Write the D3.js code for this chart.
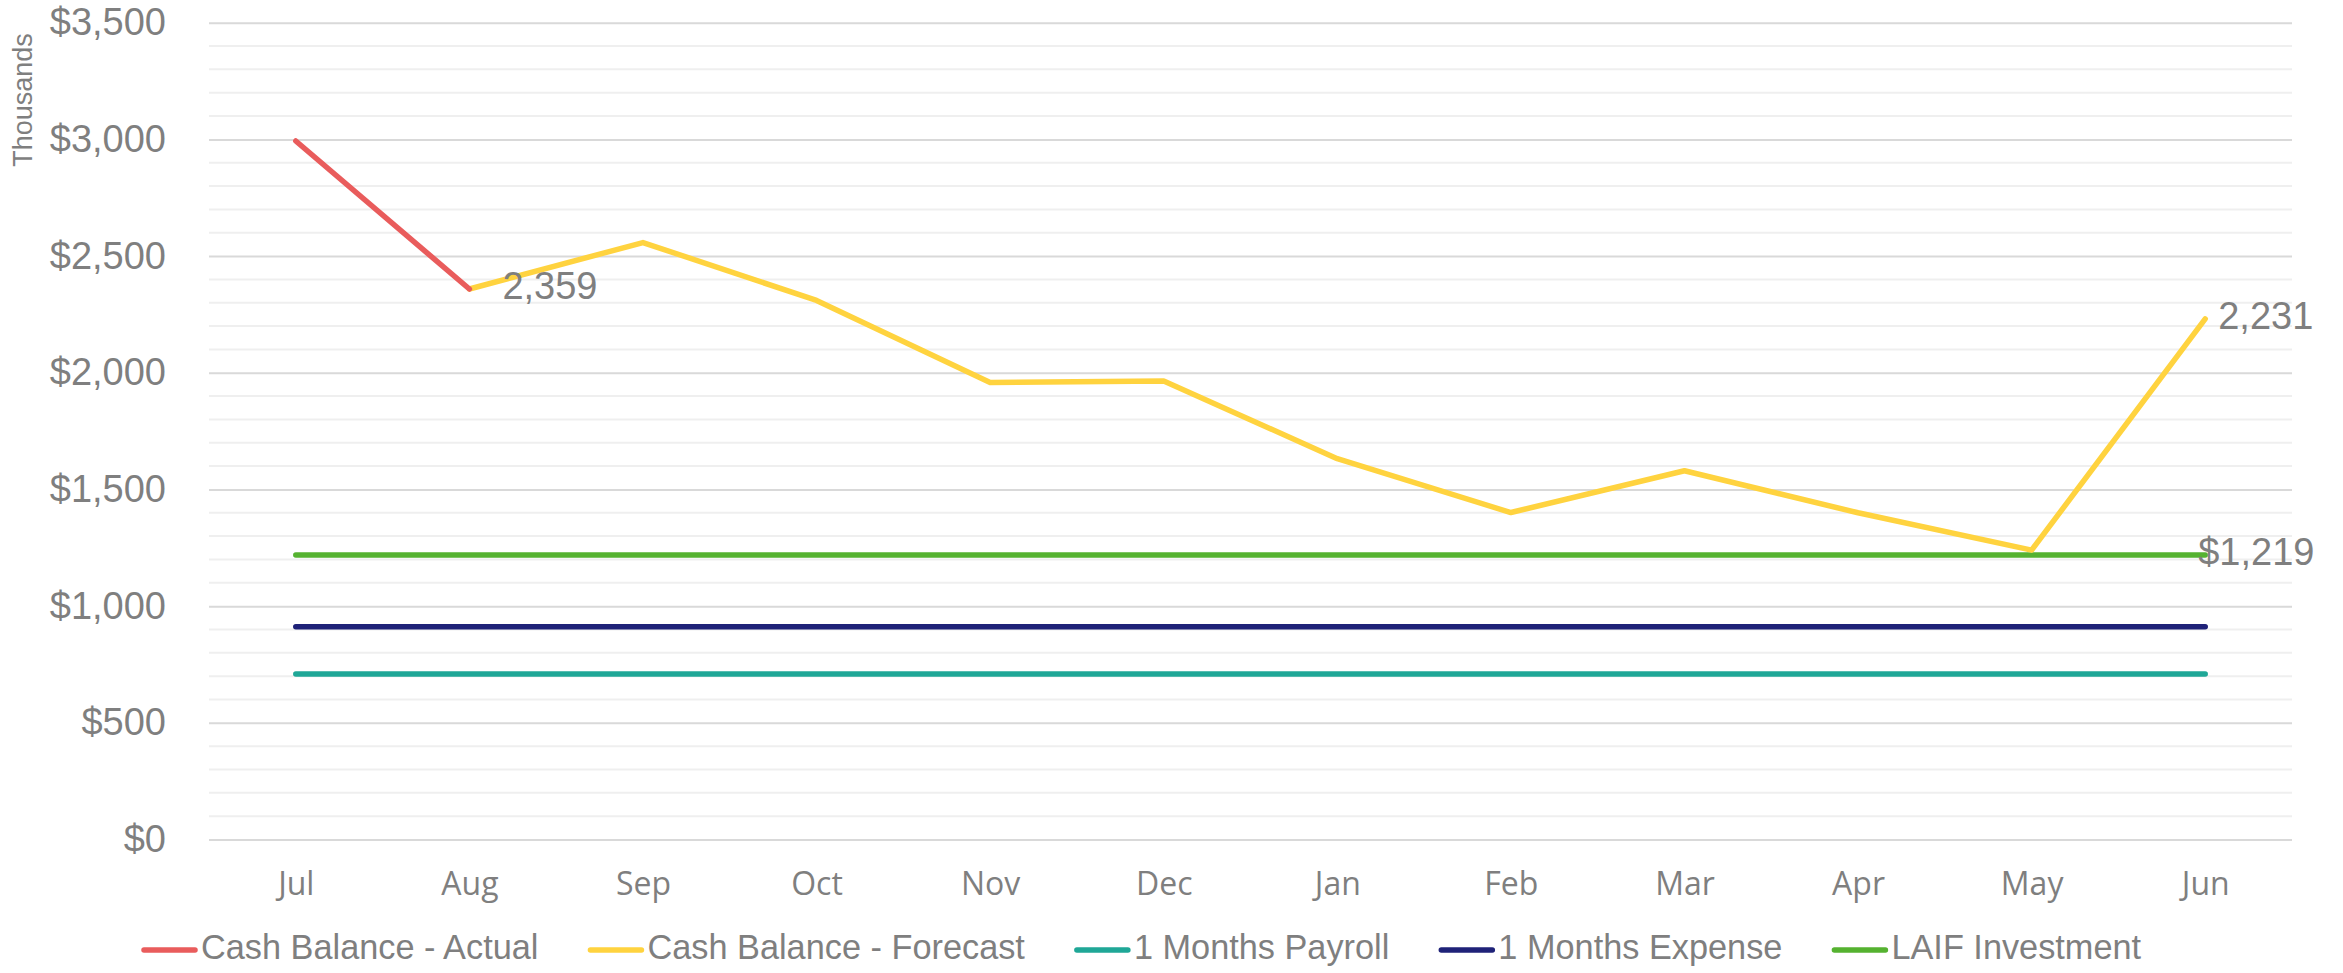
<!DOCTYPE html>
<html>
<head>
<meta charset="utf-8">
<script src="https://cdn.jsdelivr.net/npm/d3@7"></script>
<style>
  html, body { margin: 0; padding: 0; background: #fff; }
  svg { display: block; font-family: 'Liberation Sans', Arial, sans-serif; }
</style>
</head>
<body>
<div id="chart"></div>
<script>
// Data (thousands of dollars)
const months = ['Jul', 'Aug', 'Sep', 'Oct', 'Nov', 'Dec', 'Jan', 'Feb', 'Mar', 'Apr', 'May', 'Jun']
const cashActual = [2993, 2359, null, null, null, null, null, null, null, null, null, null]
const cashForecast = [null, 2359, 2558, 2310, 1958, 1965, 1632, 1401, 1580, 1400, 1240, 2231]
const payroll = [709, 709, 709, 709, 709, 709, 709, 709, 709, 709, 709, 709]
const expense = [912, 912, 912, 912, 912, 912, 912, 912, 912, 912, 912, 912]
const laif = [1219, 1219, 1219, 1219, 1219, 1219, 1219, 1219, 1219, 1219, 1219, 1219]
const yTicks = [0, 500, 1000, 1500, 2000, 2500, 3000, 3500]

const series = [
  { name: 'Cash Balance - Actual', values: cashActual, colour: '#E95C5C' },
  { name: 'Cash Balance - Forecast', values: cashForecast, colour: '#FFD33F' },
  { name: '1 Months Payroll', values: payroll, colour: '#1FA797' },
  { name: '1 Months Expense', values: expense, colour: '#1F2278' },
  { name: 'LAIF Investment', values: laif, colour: '#55B230' }
]
// drawing order (back to front)
const drawOrder = [2, 3, 4, 1, 0]

// data labels: series index, month index, format
const labels = [
  { s: 1, i: 1, fmt: d3.format(','), dx: 33, dy: 0 },
  { s: 1, i: 11, fmt: d3.format(','), dx: 13, dy: 0 },
  { s: 4, i: 11, fmt: v => '$' + d3.format(',')(v), dx: -7, dy: 0 }
]

const width = 2343, height = 973
const plot = { left: 209, right: 2292, top: 22.7, bottom: 839.5 }
const textGrey = '#7F7F7F'

const svg = d3.select('#chart').append('svg')
  .attr('width', width)
  .attr('height', height)
  .attr('viewBox', `0 0 ${width} ${height}`)

const x = d3.scalePoint()
  .domain(months)
  .range([plot.left, plot.right])
  .padding(0.5)

const y = d3.scaleLinear()
  .domain([0, 3500])
  .range([plot.bottom, plot.top])

// Gridlines - minor every 100, major every 500
const gGrid = svg.append('g')
gGrid.selectAll('.minor')
  .data(d3.range(0, 3501, 100).filter(v => v % 500 !== 0))
  .join('line')
  .classed('minor', true)
  .attr('x1', plot.left).attr('x2', plot.right)
  .attr('y1', d => y(d)).attr('y2', d => y(d))
  .style('stroke', '#EFEFEF')
  .style('stroke-width', 2)

const yAxis = d3.axisLeft(y)
  .tickValues(yTicks)
  .tickSize(-(plot.right - plot.left))
  .tickPadding(43)
  .tickFormat(v => '$' + d3.format(',')(v))

svg.append('g')
  .attr('transform', `translate(${plot.left},0)`)
  .call(yAxis)
  .call(g => g.select('.domain').remove())
  .call(g => g.selectAll('.tick line').style('stroke', '#D9D9D9').style('stroke-width', 2))
  .call(g => g.selectAll('.tick text')
    .style('fill', textGrey)
    .style('font-size', '38px')
    .style('font-family', "'Liberation Sans', Arial, sans-serif"))

const xAxis = d3.axisBottom(x).tickSize(0).tickPadding(33)
svg.append('g')
  .attr('transform', `translate(0,${plot.bottom})`)
  .call(xAxis)
  .call(g => g.select('.domain').remove())
  .call(g => g.selectAll('.tick text')
    .style('fill', textGrey)
    .style('font-size', '32px')
    .style('font-family', "'Open Sans', sans-serif"))

// Axis title
svg.append('text')
  .attr('transform', 'translate(25,100) rotate(-90)')
  .attr('text-anchor', 'middle')
  .attr('dominant-baseline', 'middle')
  .style('font-size', '27px')
  .style('fill', textGrey)
  .text('Thousands')

// Lines
const line = d3.line()
  .defined(d => d != null)
  .x((d, i) => x(months[i]))
  .y(d => y(d))

const gLines = svg.append('g')
gLines.selectAll('.series')
  .data(drawOrder.map(k => series[k]))
  .join('path')
  .classed('series', true)
  .attr('d', d => line(d.values))
  .style('fill', 'none')
  .style('stroke', d => d.colour)
  .style('stroke-width', 5.5)
  .style('stroke-linecap', 'round')
  .style('stroke-linejoin', 'round')

// Data labels
svg.append('g').selectAll('text')
  .data(labels)
  .join('text')
  .attr('x', d => x(months[d.i]) + d.dx)
  .attr('y', d => y(series[d.s].values[d.i]) + d.dy)
  .attr('dominant-baseline', 'middle')
  .style('font-size', '38px')
  .style('fill', textGrey)
  .text(d => d.fmt(series[d.s].values[d.i]))

// Legend
const gLegend = svg.append('g').attr('transform', 'translate(0,950)')
let lx = 142
series.forEach(s => {
  const item = gLegend.append('g').attr('transform', `translate(${lx},0)`)
  item.append('line')
    .attr('x1', 2).attr('x2', 53)
    .attr('y1', 0).attr('y2', 0)
    .style('stroke', s.colour)
    .style('stroke-width', 5.5)
    .style('stroke-linecap', 'round')
  const t = item.append('text')
    .attr('x', 59)
    .attr('dominant-baseline', 'middle')
    .style('font-size', '34.3px')
    .style('fill', textGrey)
    .text(s.name)
  lx += 59 + t.node().getComputedTextLength() + 50
})
</script>
</body>
</html>
